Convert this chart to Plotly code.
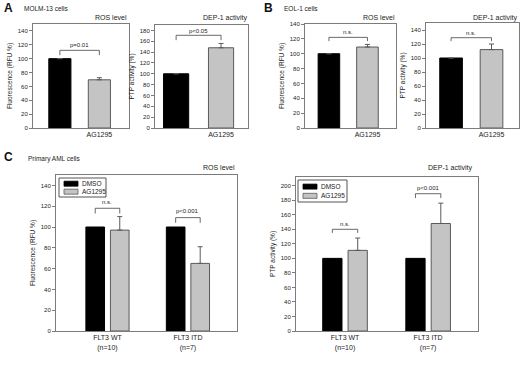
import plotly.graph_objects as go

# ---------------- data ----------------
treatments = ["DMSO", "AG1295"]

a_ros_vals = [100, 69.5]
a_ros_err = [0, 3]
a_dep_vals = [100, 148]
a_dep_err = [0, 8]

b_ros_vals = [100, 109]
b_ros_err = [0, 3.5]
b_dep_vals = [100, 112]
b_dep_err = [0, 8]

c_groups = ["FLT3 WT<br>(n=10)", "FLT3 ITD<br>(n=7)"]
c_ros_dmso = [100, 100]
c_ros_ag = [97, 65]
c_ros_ag_err = [13, 16]
c_dep_dmso = [100, 100]
c_dep_ag = [111, 148]
c_dep_ag_err = [17, 28]

sig_a_ros = ["p=0.01"]
sig_a_dep = ["p<0.05"]
sig_b_ros = ["n.s."]
sig_b_dep = ["n.s."]
sig_c_ros = ["n.s.", "p<0.001"]
sig_c_dep = ["n.s.", "p<0.001"]

# ---------------- style ----------------
FONT = "Arial, Liberation Sans, sans-serif"
BLACK = "#000000"
GRAY = "#c4c4c4"
GRAY_EDGE = "#5a5a5a"
BOX = "#7c7c7c"
TXT = "#222222"
W, H = 520, 370

fig = go.Figure()


def px_dom_x(a, b):
    return [a / W, b / W]


def px_dom_y(top, bottom):
    return [1 - bottom / H, 1 - top / H]


def axis_style(n, xdom, ydom, xrange, yrange, dtick, ytitle, xtickvals, xticktext):
    xa = "xaxis" if n == 1 else f"xaxis{n}"
    ya = "yaxis" if n == 1 else f"yaxis{n}"
    fig.update_layout(**{
        xa: dict(domain=xdom, anchor=f"y{'' if n == 1 else n}", type="category",
                 range=xrange, showline=True, mirror=True, linecolor=BOX, linewidth=1,
                 ticks="", tickvals=xtickvals, ticktext=xticktext, automargin=False,
                 tickfont=dict(size=7, color=TXT, family=FONT), showgrid=False,
                 zeroline=False, fixedrange=True),
        ya: dict(domain=ydom, anchor=f"x{'' if n == 1 else n}", range=yrange, dtick=dtick,
                 showline=True, mirror=True, linecolor=BOX, linewidth=1, automargin=False,
                 ticks="outside", ticklen=3, tickcolor=BOX, tickwidth=1,
                 tickfont=dict(size=6, color=TXT, family=FONT), showgrid=False,
                 zeroline=False, fixedrange=True,
                 title=dict(text=ytitle, font=dict(size=6.5, color=TXT, family=FONT), standoff=4)),
    })


def bracket(n, x0, x1, ytop, ybot, label, ytext):
    xr = "x" if n == 1 else f"x{n}"
    yr = "y" if n == 1 else f"y{n}"
    lw = dict(color="#444444", width=0.8)
    for (a, b, c, d) in [(x0, ybot, x0, ytop), (x0, ytop, x1, ytop), (x1, ytop, x1, ybot)]:
        fig.add_shape(type="line", xref=xr, yref=yr, x0=a, y0=b, x1=c, y1=d, line=lw)
    fig.add_annotation(x=(x0 + x1) / 2, y=ytext, xref=xr, yref=yr, text=label, showarrow=False,
                       font=dict(size=6, color=TXT, family=FONT), yanchor="middle")


def simple_panel(n, vals, err, xdom, ydom, xrange, yrange, dtick, ytitle, sig, bry):
    fig.add_trace(go.Bar(
        x=treatments, y=vals, width=0.56,
        marker=dict(color=[BLACK, GRAY], line=dict(color=[BLACK, GRAY_EDGE], width=1)),
        error_y=dict(type="data", symmetric=False, array=err, arrayminus=[0] * len(err),
                     color=GRAY_EDGE, thickness=1, width=2.5),
        xaxis=f"x{'' if n == 1 else n}", yaxis=f"y{'' if n == 1 else n}", showlegend=False,
        hoverinfo="skip",
    ))
    axis_style(n, xdom, ydom, xrange, yrange, dtick, ytitle, ["AG1295"], ["AG1295"])
    ytop, ybot, ytext = bry
    bracket(n, 0, 1, ytop, ybot, sig[0], ytext)


def group_panel(n, dmso, ag, agerr, xdom, ydom, xrange, yrange, dtick, ytitle, sig, brys):
    xa = f"x{'' if n == 1 else n}"
    ya = f"y{'' if n == 1 else n}"
    fig.add_trace(go.Bar(x=c_groups, y=dmso, name="DMSO",
                         marker=dict(color=BLACK, line=dict(color=BLACK, width=1)),
                         xaxis=xa, yaxis=ya, showlegend=False, hoverinfo="skip"))
    fig.add_trace(go.Bar(x=c_groups, y=ag, name="AG1295",
                         marker=dict(color=GRAY, line=dict(color=GRAY_EDGE, width=1)),
                         error_y=dict(type="data", symmetric=False, array=agerr,
                                      arrayminus=[0] * len(agerr), color=GRAY_EDGE,
                                      thickness=1, width=2.5),
                         xaxis=xa, yaxis=ya, showlegend=False, hoverinfo="skip"))
    axis_style(n, xdom, ydom, xrange, yrange, dtick, ytitle, c_groups, c_groups)
    half = (1 - BARGAP) / 4
    for i, (ytop, ybot, ytext) in enumerate(brys):
        bracket(n, i - half, i + half, ytop, ybot, sig[i], ytext)


BARGAP = 0.39

simple_panel(1, a_ros_vals, a_ros_err, px_dom_x(33, 129), px_dom_y(24, 128),
             [-0.68, 1.75], [0, 150], 20, "Fluorescence (RFU %)", sig_a_ros, (112, 105, 120))
simple_panel(2, a_dep_vals, a_dep_err, px_dom_x(155, 248), px_dom_y(25, 128),
             [-0.47, 1.6], [0, 190], 20, "PTP activity (%)", sig_a_dep, (171, 162, 179))
simple_panel(3, b_ros_vals, b_ros_err, px_dom_x(305, 396), px_dom_y(24, 128),
             [-0.62, 1.74], [0, 140], 20, "Fluorescence (RFU %)", sig_b_ros, (122, 117, 129))
simple_panel(4, b_dep_vals, b_dep_err, px_dom_x(426, 519), px_dom_y(23, 128),
             [-0.62, 1.68], [0, 150], 20, "PTP activity (%)", sig_b_dep, (129, 124, 136))
group_panel(5, c_ros_dmso, c_ros_ag, c_ros_ag_err, px_dom_x(56, 237), px_dom_y(175, 331),
            [-0.64, 1.61], [0, 150], 20, "Fluorescence (RFU %)", sig_c_ros,
            [(118, 113, 124), (109, 104, 115)])
group_panel(6, c_dep_dmso, c_dep_ag, c_dep_ag_err, px_dom_x(296, 478), px_dom_y(177, 331),
            [-0.59, 1.60], [0, 212], 20, "PTP activity (%)", sig_c_dep,
            [(140, 135, 147), (189, 183, 197)])

# ---------------- text labels ----------------
def ptext(x, y, text, size=7, bold=False, xanchor="left"):
    fig.add_annotation(x=x / W, y=1 - y / H, xref="paper", yref="paper", text=f"<b>{text}</b>" if bold else text,
                       showarrow=False, xanchor=xanchor, yanchor="middle",
                       font=dict(size=size, color=TXT if not bold else "#111", family=FONT))

ptext(2, 8, "A", 12, bold=True)
ptext(22, 8, "MOLM-13 cells", 6.5)
ptext(129, 18, "ROS level", 7, xanchor="right")
ptext(249, 18, "DEP-1 activity", 7, xanchor="right")
ptext(262, 8, "B", 12, bold=True)
ptext(282, 8, "EOL-1 cells", 6.5)
ptext(397, 18, "ROS level", 7, xanchor="right")
ptext(519, 18, "DEP-1 activity", 7, xanchor="right")
ptext(2, 157, "C", 12, bold=True)
ptext(26, 159, "Primary AML cells", 6.5)
ptext(237, 167, "ROS level", 7, xanchor="right")
ptext(474, 168, "DEP-1 activity", 7, xanchor="right")

# ---------------- manual legends for panel C ----------------
def legend_box(x0, y0, x1, y1):
    fig.add_shape(type="rect", xref="paper", yref="paper", x0=x0 / W, x1=x1 / W,
                  y0=1 - y1 / H, y1=1 - y0 / H, line=dict(color="#555555", width=1),
                  fillcolor="white")
    rows = [(y0 + (y1 - y0) * 0.3, BLACK, BLACK, treatments[0]),
            (y0 + (y1 - y0) * 0.72, GRAY, GRAY_EDGE, treatments[1])]
    for yc, fc, lc, name in rows:
        fig.add_shape(type="rect", xref="paper", yref="paper", x0=(x0 + 5) / W, x1=(x0 + 19) / W,
                      y0=1 - (yc + 2.5) / H, y1=1 - (yc - 2.5) / H, fillcolor=fc,
                      line=dict(color=lc, width=0.8))
        ptext(x0 + 21, yc, name, 6.5)

legend_box(59, 178, 106, 197)
legend_box(298, 180, 347, 202)

fig.update_layout(
    width=W, height=H, margin=dict(l=0, r=0, t=0, b=0),
    paper_bgcolor="white", plot_bgcolor="white",
    barmode="group", bargap=BARGAP, bargroupgap=0.24,
    font=dict(family=FONT, color=TXT),
    showlegend=False, hovermode=False,
)

fig.write_html("out.html", config={"displayModeBar": False, "staticPlot": True},
               post_script="document.body.style.margin='0';document.body.style.padding='0';"
                           "document.body.style.overflow='hidden';")
